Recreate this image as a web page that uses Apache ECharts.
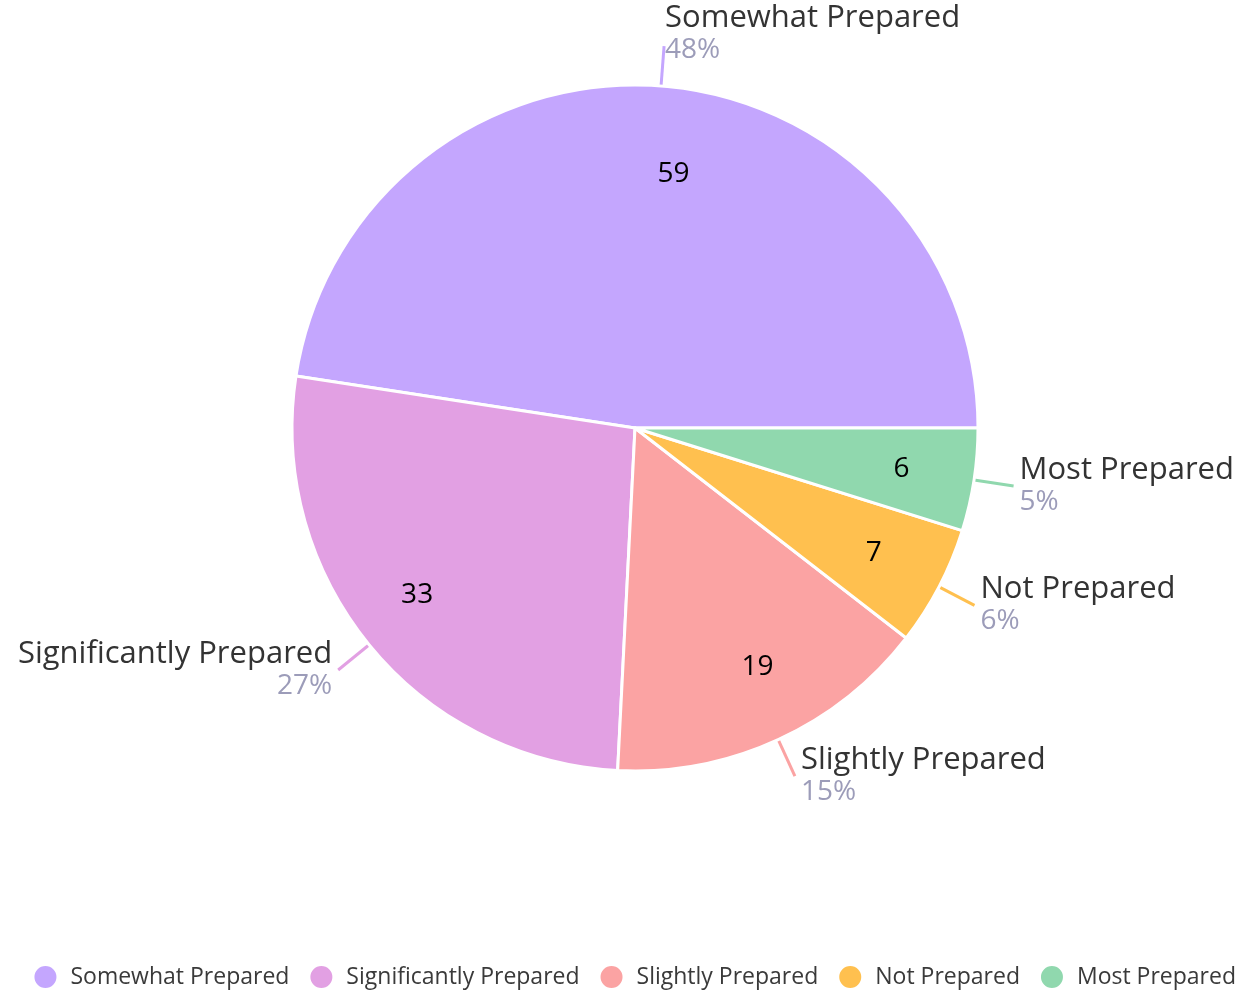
<!DOCTYPE html>
<html>
<head>
<meta charset="utf-8">
<script src="https://cdn.jsdelivr.net/npm/echarts@6/dist/echarts.min.js"></script>
<style>
  html, body { margin: 0; padding: 0; background: #fff; }
  #main { width: 1243px; height: 992px; }
</style>
</head>
<body>
<div id="main"></div>
<script>
const categories = ["Somewhat Prepared", "Significantly Prepared", "Slightly Prepared", "Not Prepared", "Most Prepared"];
const counts = [59, 33, 19, 7, 6];
const colors = ["#c4a6fe", "#e2a0e3", "#fba3a3", "#ffc04f", "#90d8ae"];

const font = "'Open Sans', Lato, sans-serif";
const chart = echarts.init(document.getElementById("main"));

// small nudges so the inner count labels sit where the original has them
const innerNudge = { 0: { dx: 18, dy: 15 }, 1: { dx: -9, dy: -3 }, 2: { dx: 10, dy: -6 } };

const option = {
  color: colors,
  legend: {
    top: 959,
    right: 2,
    icon: "circle",
    itemWidth: 24,
    itemHeight: 24,
    itemGap: 19,
    data: categories,
    textStyle: { fontFamily: font, fontSize: 23, color: "#3a3a3a", padding: [0, 0, 0, 8] },
  },
  series: [
    {
      name: "Preparedness",
      type: "pie",
      center: [635, 428],
      radius: 343,
      startAngle: 0,
      clockwise: false,
      avoidLabelOverlap: false,
      itemStyle: { borderColor: "#fff", borderWidth: 3 },
      label: {
        show: true,
        position: "outside",
        formatter: (p) => `{n|${p.name}}\n{p|${Math.round(p.percent)}%}`,
        distanceToLabelLine: 6,
        rich: {
          n: { fontFamily: font, fontSize: 31, color: "#333", lineHeight: 32 },
          p: { fontFamily: font, fontSize: 28, color: "#9c9cb9", lineHeight: 32 },
        },
      },
      labelLayout: (p) => (p.dataIndex === 0 ? { dy: -12, dx: -5 } : {}),
      labelLine: { show: true, length: 40, length2: 0, lineStyle: { width: 3 } },
      emphasis: { scale: false },
      data: categories.map((name, i) => ({ name: name, value: counts[i] })),
    },
    {
      name: "Counts",
      type: "pie",
      center: [635, 428],
      radius: [190, 343],
      startAngle: 0,
      clockwise: false,
      silent: true,
      legendHoverLink: false,
      itemStyle: { color: "rgba(0,0,0,0)" },
      label: {
        show: true,
        position: "inside",
        formatter: "{c}",
        fontFamily: font,
        fontSize: 28,
        color: "#000",
      },
      labelLine: { show: false },
      labelLayout: (p) => innerNudge[p.dataIndex] || {},
      data: categories.map((name, i) => ({ name: name, value: counts[i] })),
    },
  ],
};

chart.setOption(option);
</script>
</body>
</html>
